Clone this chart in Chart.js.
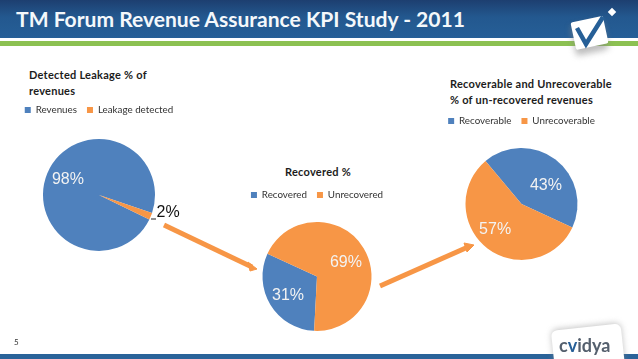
<!DOCTYPE html>
<html>
<head>
<meta charset="utf-8">
<script src="https://cdn.jsdelivr.net/npm/chart.js@4"></script>
<style>
html, body { margin: 0; padding: 0; background: #fff; }
#slide { position: relative; width: 638px; height: 359px; overflow: hidden; font-family: Lato, sans-serif; }
#head { position: absolute; left: 0; top: 0; width: 638px; height: 38px; background: linear-gradient(#1d3f70, #23588f 45%, #265f97); }
#green { position: absolute; left: 0; top: 41px; width: 638px; height: 5px; background: #8cc152; }
#foot { position: absolute; left: 0; top: 354px; width: 638px; height: 5px; background: #2a6399; }
#title { position: absolute; left: 16px; top: 6px; font-size: 21.05px; font-weight: 700; color: #f4f8fb; white-space: nowrap; }
.ct { position: absolute; font-size: 11px; letter-spacing: .25px; line-height: 15.5px; font-weight: 700; color: #1c1c1c; white-space: nowrap; }
#pageno { position: absolute; left: 14px; top: 337px; font-size: 8px; color: #333; }
canvas { position: absolute; }
#overlay { position: absolute; left: 0; top: 0; }
</style>
</head>
<body>
<div id="slide">
  <div id="head"></div>
  <div id="green"></div>
  <div id="foot"></div>
  <div id="title">TM Forum Revenue Assurance KPI Study - 2011</div>
  <div class="ct" style="left:29px;top:67px">Detected Leakage % of<br>revenues</div>
  <div class="ct" style="left:285px;top:164px">Recovered %</div>
  <div class="ct" style="left:450px;top:76px">Recoverable and Unrecoverable<br>% of un-recovered revenues</div>
  <canvas id="pie1" style="left:0;top:95px" width="198" height="170"></canvas>
  <canvas id="pie2" style="left:217px;top:180px" width="200" height="163"></canvas>
  <canvas id="pie3" style="left:421px;top:106px" width="201" height="166"></canvas>
  <svg id="overlay" width="638" height="359">
    <defs>
      <filter id="soft" x="-30%" y="-30%" width="160%" height="160%"><feGaussianBlur stdDeviation="3"/></filter>
    </defs>
    <!-- arrows -->
    <line x1="164" y1="225" x2="252" y2="267" stroke="#f79646" stroke-width="5"/>
    <path d="M257 269 L248 262 L250 271 Z" fill="#f79646" stroke="#f79646"/>
    <line x1="380" y1="286" x2="468" y2="247" stroke="#f79646" stroke-width="5"/>
    <path d="M474 245 L464 243 L467 252 Z" fill="#f79646" stroke="#f79646"/>
    <!-- leader of the 2% label -->
    <line x1="151" y1="219" x2="156" y2="219" stroke="#222" stroke-width="1"/>
    <!-- check mark logo -->
    <rect x="573" y="23" width="33" height="30" rx="3" fill="#888" opacity=".55" filter="url(#soft)" transform="rotate(-12 589 38)"/>
    <rect x="573" y="19" width="33" height="28" rx="2" fill="#fff" transform="rotate(-12 589 33)"/>
    <polyline points="577,28 586,44 603,17" fill="none" stroke="#265f97" stroke-width="4.5"/>
    <rect x="609" y="9" width="6" height="6" fill="#fff" transform="rotate(45 612 12)"/>
    <!-- cvidya logo -->
    <rect x="553" y="326" width="70" height="44" rx="6" fill="#888" opacity=".5" filter="url(#soft)" transform="rotate(-6 588 348)"/>
    <rect x="553" y="327" width="70" height="44" rx="6" fill="#fff" transform="rotate(-6 588 349)"/>
    <text x="559" y="352" font-family="Lato, sans-serif" font-size="18" font-weight="700" fill="#55606e">c<tspan fill="#265f97">v</tspan>idya</text>
  </svg>
  <div id="pageno">5</div>
</div>
<script>
var labels1 = ["Revenues", "Leakage detected"];
var values1 = [98, 2];
var labels2 = ["Recovered", "Unrecovered"];
var values2 = [31, 69];
var labels3 = ["Recoverable", "Unrecoverable"];
var values3 = [43, 57];

var blue = "#4f81bd";
var orange = "#f79646";

// percent labels, the library has none for arcs so draw them after the datasets
var percentLabels = {
    id: "percentLabels",
    afterDatasetsDraw: function (chart, args, opts) {
        var ctx = chart.ctx;
        var arcs = chart.getDatasetMeta(0).data;
        ctx.save();
        ctx.font = "16px 'Liberation Sans'";
        ctx.textAlign = "center";
        ctx.textBaseline = "middle";
        for (var i = 0; i < arcs.length; i++) {
            var p = arcs[i].getProps(["x", "y", "startAngle", "endAngle", "outerRadius"], true);
            var mid = (p.startAngle + p.endAngle) / 2;
            var r = p.outerRadius * opts.dist[i];
            ctx.fillStyle = opts.colors[i];
            ctx.fillText(chart.data.datasets[0].data[i] + "%", p.x + Math.cos(mid) * r + opts.nudge[i][0], p.y + Math.sin(mid) * r + opts.nudge[i][1]);
        }
        ctx.restore();
    }
};

function makePie(id, labels, values, rotation, radius, labelOpts) {
    return new Chart(document.getElementById(id).getContext("2d"), {
        type: "pie",
        data: {
            labels: labels,
            datasets: [{
                data: values,
                backgroundColor: [blue, orange],
                borderWidth: 0
            }]
        },
        options: {
            responsive: false,
            animation: false,
            rotation: rotation,
            radius: radius,
            plugins: {
                legend: {
                    position: "top",
                    labels: {
                        boxWidth: 6,
                        boxHeight: 6,
                        padding: 10,
                        color: "#333",
                        font: { family: "Lato", size: 9.8 }
                    }
                },
                tooltip: { enabled: false },
                percentLabels: labelOpts
            }
        },
        plugins: [percentLabels]
    });
}

makePie("pie1", labels1, values1, 116, 56, {
    dist: [0.6, 1.2],
    colors: ["#f3f3f3", "#111"],
    nudge: [[0, -3], [7, -8]]
});
makePie("pie2", labels2, values2, 183, 54.5, {
    dist: [0.6, 0.6],
    colors: ["#f3f3f3", "#f3f3f3"],
    nudge: [[-1, 2], [1, 3]]
});
makePie("pie3", labels3, values3, 320, 56, {
    dist: [0.6, 0.6],
    colors: ["#f3f3f3", "#f3f3f3"],
    nudge: [[4, 8], [-6, -1]]
});
</script>
</body>
</html>
